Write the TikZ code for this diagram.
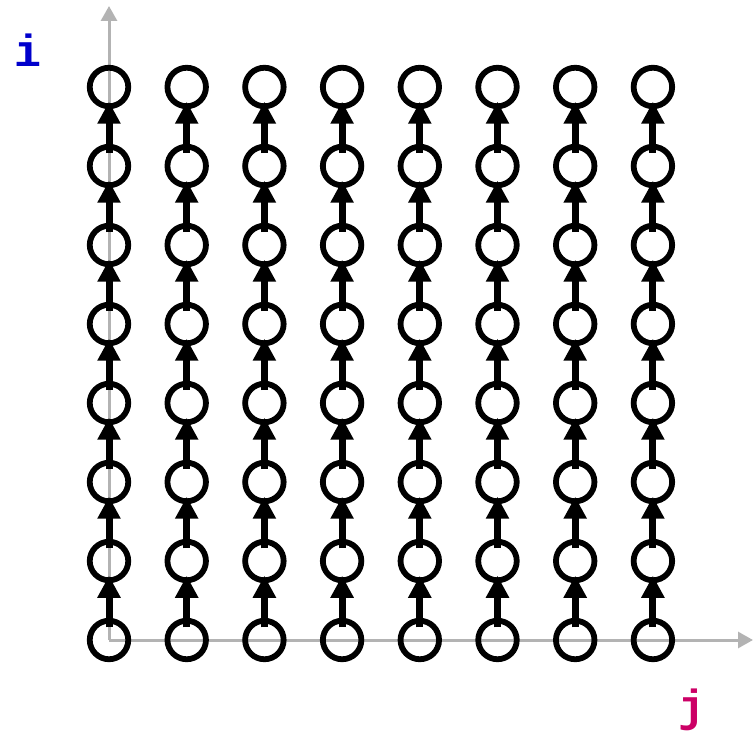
\documentclass[tikz,border=0pt]{standalone}
\usepackage{fontspec}
\newfontfamily\labfont{Liberation Mono}
\usetikzlibrary{arrows.meta}
\definecolor{axisgray}{HTML}{B3B3B3}
\definecolor{iblue}{HTML}{0000CC}
\definecolor{jmag}{HTML}{CC0066}
\tikzset{
  cell/.style={circle, draw=black, line width=5.8pt, minimum size=38.5pt, inner sep=0pt, outer sep=0pt},
  depedge/.style={line width=7pt, -{Triangle[width=22pt,length=22pt]}, shorten <=-6.5pt, shorten >=-4.5pt},
  axisline/.style={draw=axisgray, line width=3pt, -{Triangle[width=16pt,length=15pt]}},
  axlabel/.style={font=\labfont\bfseries\fontsize{45}{50}\selectfont, anchor=base, inner sep=0pt}
}
\begin{document}
\begin{tikzpicture}[x=1pt,y=1pt]
\useasboundingbox (0,0) rectangle (753,732);
\coordinate (O) at (109,92);
\coordinate (Yend) at (109,726);
\coordinate (Xend) at (753,92);
\draw[axisline] (O) -- (Yend);
\draw[axisline] (O) -- (Xend);
\foreach \i in {0,...,7}{
  \foreach \j in {0,...,7}{
    \node[cell] (n-\i-\j) at ({109+77.7*\j},{92+79*\i}) {};
  }
}
\foreach \i [evaluate=\i as \k using int(\i+1)] in {0,...,6}{
  \foreach \j in {0,...,7}{
    \draw[depedge] (n-\i-\j.north) -- (n-\k-\j.south);
  }
}
\node[axlabel, text=iblue] (ilab) at (28,665) {i};
\node[axlabel, text=jmag] (jlab) at (692,11) {j};
\end{tikzpicture}
\end{document}
